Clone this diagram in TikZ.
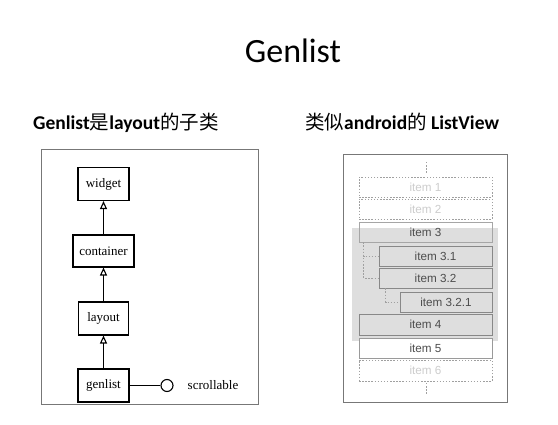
\documentclass[tikz,border=0pt]{standalone}
\usepackage{fontspec}
\setmainfont{Carlito}
\newfontfamily\cjk{Noto Sans CJK SC}
\newfontfamily\serifd{Liberation Serif}
\newfontfamily\sansd{Liberation Sans}
\usetikzlibrary{arrows.meta,calc}
\definecolor{itemtext}{HTML}{4D4D4D}
\definecolor{fadetext}{HTML}{CCCCCC}
\definecolor{itemborder}{HTML}{888888}
\definecolor{dotborder}{HTML}{A0A0A0}
\definecolor{regiongray}{HTML}{DEDEDE}
\definecolor{framegray}{HTML}{777777}
\tikzset{
  umlbox/.style={draw=black, line width=1.1pt, inner sep=0pt, font=\serifd\fontsize{13}{15}\selectfont},
  inh/.style={line width=1.1pt, -{Triangle[open, width=7pt, length=8pt]}},
  itembox/.style={draw=itemborder, line width=0.7pt, inner sep=0pt, minimum height=20pt, text=itemtext, font=\sansd\fontsize{11.7}{13}\selectfont},
  fadebox/.style={draw=dotborder, line width=0.8pt, dash pattern=on 1.5pt off 1.6pt, inner sep=0pt, minimum height=20pt, text=fadetext, font=\sansd\fontsize{11.7}{13}\selectfont},
  treeline/.style={draw=dotborder, line width=0.8pt, dash pattern=on 1.5pt off 1.6pt},
  heading/.style={anchor=base west, inner sep=0pt, font=\fontsize{19.5}{23}\selectfont\bfseries}
}
\begin{document}
\begin{tikzpicture}[x=1pt,y=-1pt]
\useasboundingbox (0,0) rectangle (558,425);
% title and headings
\node[anchor=base, inner sep=0pt, font=\fontsize{34}{40}\selectfont] (title) at (293,63) {Genlist};
\node[heading] (hleft) at (33,130) {Genlist{\cjk\mdseries 是}layout{\cjk\mdseries 的子类}};
\node[heading] (hright) at (305,130) {{\cjk\mdseries 类似}android{\cjk\mdseries 的} ListView};
% left diagram
\draw[framegray, line width=0.9pt] (41,149) rectangle (258,404);
\node[umlbox, minimum width=51pt, minimum height=33pt] (widget) at (103.5,184) {widget};
\node[umlbox, minimum width=61pt, minimum height=32pt] (container) at (103.5,251) {container};
\node[umlbox, minimum width=50pt, minimum height=33pt] (layout) at (103.5,318.5) {layout};
\node[umlbox, minimum width=51pt, minimum height=33pt] (genlist) at (103.5,385.5) {genlist};
\draw[inh] (container) -- (widget);
\draw[inh] (layout) -- (container);
\draw[inh] (genlist) -- (layout);
\node[draw=black, line width=1.1pt, circle, minimum size=12pt, inner sep=0pt] (iface) at (167,385.5) {};
\draw[line width=1.1pt] (genlist.east) -- (iface.west);
\node[inner sep=0pt, font=\serifd\fontsize{13}{15}\selectfont] (scroll) at (213,385.5) {scrollable};
% right diagram
\draw[framegray, line width=0.8pt] (343,154) rectangle (507,402);
\fill[regiongray] (352,228) rectangle (498,341);
\coordinate (topa) at (426,162);
\coordinate (topb) at (426,174);
\coordinate (bota) at (426,383);
\coordinate (botb) at (426,395);
\draw[treeline] (topa) -- (topb);
\draw[treeline] (bota) -- (botb);
\node[fadebox, minimum width=133pt] (item1) at (425.5,187) {item 1};
\node[fadebox, minimum width=133pt] (item2) at (425.5,209) {item 2};
\node[itembox, draw=itemborder!75, minimum width=133pt] (item3) at (425.5,232) {item 3};
\node[itembox, minimum width=113pt] (item31) at (435.5,256) {item 3.1};
\node[itembox, minimum width=113pt] (item32) at (435.5,278) {item 3.2};
\node[itembox, minimum width=92pt] (item321) at (446,302) {item 3.2.1};
\node[itembox, minimum width=133pt, minimum height=21pt] (item4) at (425.5,324.5) {item 4};
\node[itembox, draw=itemborder!85, fill=white, minimum width=133pt] (item5) at (425.5,348) {item 5};
\node[fadebox, minimum width=133pt, minimum height=21pt] (item6) at (425.5,370.5) {item 6};
\draw[treeline] ($(item3.south west)+(5,0)$) |- (item31.west);
\draw[treeline] ($(item3.south west)+(5,0)$) |- (item32.west);
\draw[treeline] ($(item32.south west)+(7,0)$) |- (item321.west);
\end{tikzpicture}
\end{document}
